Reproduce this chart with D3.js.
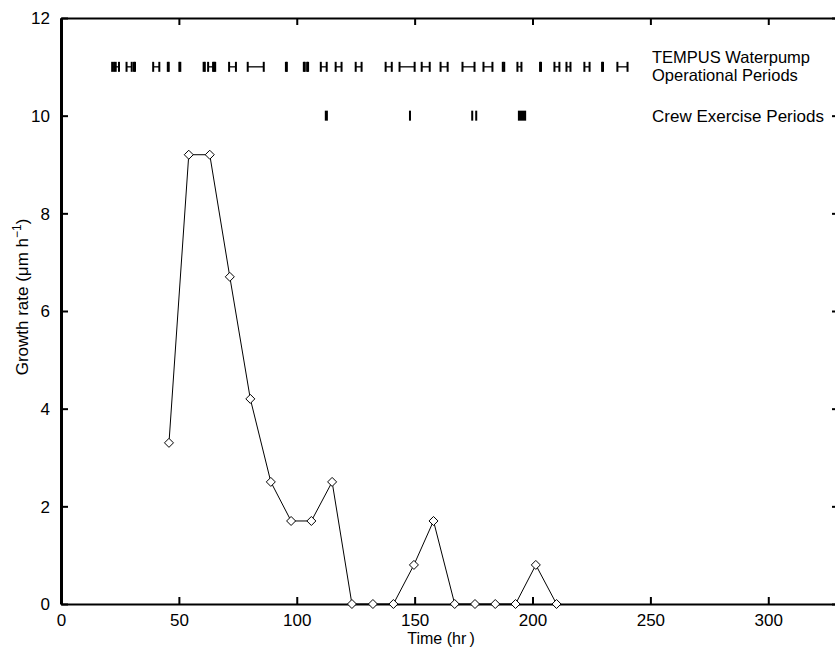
<!DOCTYPE html>
<html>
<head>
<meta charset="utf-8">
<script src="https://cdn.jsdelivr.net/npm/d3@7"></script>
<style>
  body { margin: 0; background: #fff; }
  text { font-family: "Liberation Sans", Arial, Helvetica, sans-serif; }
</style>
</head>
<body>
<script>
// growth rate measurements
var timeHr = [45.8, 54.2, 63.1, 71.6, 80.3, 89.0, 97.6, 106.2, 115.0, 123.4,
              132.3, 141.0, 149.7, 158.0, 167.0, 175.6, 184.2, 192.8, 201.4, 210.2];
var growthRate = [3.3, 9.2, 9.2, 6.7, 4.2, 2.5, 1.7, 1.7, 2.5, 0,
                  0, 0, 0.8, 1.7, 0, 0, 0, 0, 0.8, 0];

// TEMPUS waterpump operational periods (hr)
var pumpStart = [21.7, 23.2, 27.8, 30.9, 39.1, 45.3, 50.2, 60.5, 62.4, 65.0, 71.3, 79.2,
                 95.4, 103.0, 104.4, 110.2, 116.5, 125.0, 137.7, 143.6, 153.0, 161.0,
                 170.3, 179.2, 187.4, 193.6, 203.2, 209.3, 214.4, 222.0, 229.5, 236.0];
var pumpEnd   = [22.5, 24.6, 30.0, 31.4, 41.7, 45.7, 50.6, 61.0, 64.5, 65.4, 74.2, 86.0,
                 95.8, 103.4, 104.8, 112.7, 119.0, 127.5, 140.3, 150.0, 156.4, 164.0,
                 175.4, 183.0, 188.0, 195.3, 203.6, 211.4, 216.1, 224.2, 229.9, 240.3];

// crew exercise periods (hr)
var crewStart = [111.9, 147.6, 174.0, 175.7, 193.8];
var crewEnd   = [113.2, 148.3, 174.6, 176.4, 197.3];

var xTicks = [0, 50, 100, 150, 200, 250, 300];
var yTicks = [0, 2, 4, 6, 8, 10, 12];

var W = 835, H = 647;
var svg = d3.select('body').append('svg')
    .attr('width', W)
    .attr('height', H);

var x = d3.scaleLinear().domain([0, 330]).range([61, 839]);
var y = d3.scaleLinear().domain([0, 12]).range([604, 18]);

// axes
var fs = '17px';
var gB = svg.append('g').attr('transform', 'translate(0,' + y(0) + ')')
    .call(d3.axisBottom(x).tickValues(xTicks).tickSize(-7).tickSizeOuter(0).tickPadding(10));
var gT = svg.append('g').attr('transform', 'translate(0,' + y(12) + ')')
    .call(d3.axisTop(x).tickValues(xTicks).tickSize(-7).tickSizeOuter(0).tickFormat(''));
var gL = svg.append('g').attr('transform', 'translate(' + x(0) + ',0)')
    .call(d3.axisLeft(y).tickValues(yTicks).tickSize(-7).tickSizeOuter(0).tickPadding(11));
var gR = svg.append('g').attr('transform', 'translate(' + x(330) + ',0)')
    .call(d3.axisRight(y).tickValues(yTicks).tickSize(-7).tickSizeOuter(0).tickFormat(''));

[gB, gT, gL, gR].forEach(function(g){
  g.selectAll('text').attr('font-size', fs).attr('fill', '#000')
    .attr('font-family', '"Liberation Sans", Arial, sans-serif');
  g.selectAll('line').attr('stroke', '#000').attr('stroke-width', 2);
  g.select('.domain').attr('stroke', '#000').attr('stroke-width', 2);
});
gL.select('.domain').attr('stroke-width', 3);
gL.selectAll('text').attr('dy', '0.35em');

// axis titles
svg.append('text')
    .attr('x', 441).attr('y', 643.5)
    .attr('text-anchor', 'middle')
    .attr('font-size', '16px')
    .text('Time (hr\u2009)');

var yl = svg.append('text')
    .attr('transform', 'translate(28,297) rotate(-90)')
    .attr('text-anchor', 'middle')
    .attr('font-size', fs);
yl.append('tspan').text('Growth rate (\u03bcm h');
yl.append('tspan').attr('font-size', '12px').attr('dy', '-7').text('\u22121');
yl.append('tspan').attr('dy', '7').text(')');

// pump operational periods: capped intervals
var pumpData = pumpStart.map(function(s, i){ return {s: s, e: pumpEnd[i]}; });
var yp = y(11);
var pg = svg.append('g').attr('stroke', '#000').attr('stroke-width', 2);
pg.selectAll('line.h').data(pumpData).enter().append('line')
    .attr('class', 'h')
    .attr('x1', function(d){ return x(d.s); })
    .attr('x2', function(d){ return x(d.e); })
    .attr('y1', yp).attr('y2', yp)
    .attr('stroke-width', 1.3);
pg.selectAll('line.a').data(pumpData).enter().append('line')
    .attr('class', 'a')
    .attr('x1', function(d){ return x(d.s); })
    .attr('x2', function(d){ return x(d.s); })
    .attr('y1', yp - 5).attr('y2', yp + 5);
pg.selectAll('line.b').data(pumpData).enter().append('line')
    .attr('class', 'b')
    .attr('x1', function(d){ return x(d.e); })
    .attr('x2', function(d){ return x(d.e); })
    .attr('y1', yp - 5).attr('y2', yp + 5);

// crew exercise periods
var crewData = crewStart.map(function(s, i){ return {s: s, e: crewEnd[i]}; });
svg.selectAll('rect.crew').data(crewData).enter().append('rect')
    .attr('class', 'crew')
    .attr('x', function(d){ return x(d.s); })
    .attr('width', function(d){ return Math.max(2, x(d.e) - x(d.s)); })
    .attr('y', y(10) - 5)
    .attr('height', 10)
    .attr('fill', '#000');

// legend labels
svg.append('text').attr('x', 652).attr('y', 63).attr('font-size', '16.5px').text('TEMPUS Waterpump');
svg.append('text').attr('x', 652).attr('y', 81).attr('font-size', '16.5px').text('Operational Periods');
svg.append('text').attr('x', 652).attr('y', 122).attr('font-size', fs).text('Crew Exercise Periods');

// growth rate line + diamonds
var pts = timeHr.map(function(t, i){ return [t, growthRate[i]]; });
svg.append('path')
    .datum(pts)
    .attr('fill', 'none')
    .attr('stroke', '#000')
    .attr('stroke-width', 1)
    .attr('d', d3.line().x(function(d){ return x(d[0]); }).y(function(d){ return y(d[1]); }));

svg.selectAll('path.pt').data(pts).enter().append('path')
    .attr('class', 'pt')
    .attr('transform', function(d){ return 'translate(' + x(d[0]) + ',' + y(d[1]) + ')'; })
    .attr('d', 'M0,-4.5L4.5,0L0,4.5L-4.5,0Z')
    .attr('fill', '#fff')
    .attr('stroke', '#000')
    .attr('stroke-width', 1);
</script>
</body>
</html>
